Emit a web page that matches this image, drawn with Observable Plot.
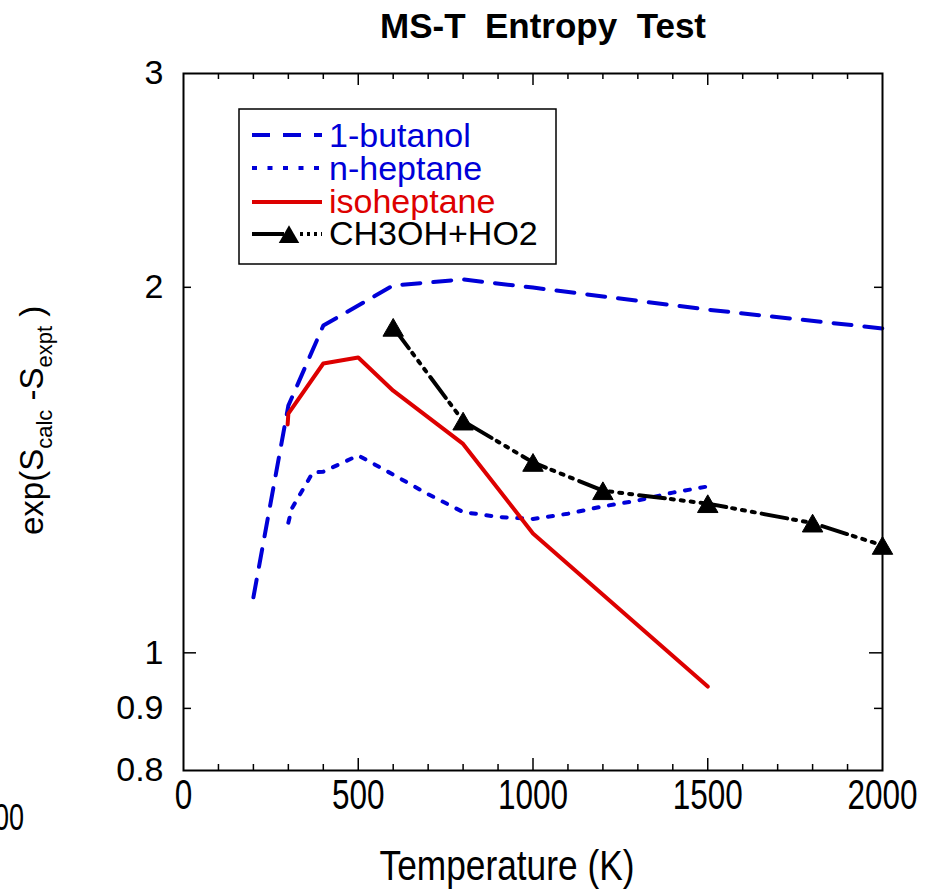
<!DOCTYPE html>
<html>
<head>
<meta charset="utf-8">
<script src="https://cdn.jsdelivr.net/npm/d3@7"></script>
<script src="https://cdn.jsdelivr.net/npm/@observablehq/plot@0.6"></script>
<style>
  html, body { margin: 0; padding: 0; background: #fff; }
  body { font-family: "Liberation Sans", Arial, Helvetica, sans-serif; }
  #wrap { position: relative; width: 936px; height: 893px; overflow: hidden; }
  #title { position: absolute; left: 380px; top: 8px; font-size: 35px; line-height: 35px;
           font-weight: bold; white-space: pre; color: #000; }
  #chart { position: absolute; left: 0; top: 50px; }
</style>
</head>
<body>
<div id="wrap">
  <div id="title">MS-T  Entropy  Test</div>
  <div id="chart"></div>
</div>
<script>
// ---- data ----
const xTicks = [0, 500, 1000, 1500, 2000];
const xMinorTicks = [100, 200, 300, 400, 600, 700, 800, 900, 1100, 1200, 1300, 1400, 1600, 1700, 1800, 1900];
const xMajorTicks = [500, 1000, 1500];
const yTicks = [0.8, 0.9, 1, 2, 3];
const yMinorTicks = [0.9, 2];
const yMajorTicks = [1];

const seriesNames = ["1-butanol", "n-heptane", "isoheptane", "CH3OH+HO2"];

const butanolT = [200, 300, 400, 600, 800, 1000, 1500, 2000];
const butanolV = [1.111, 1.598, 1.860, 2.007, 2.030, 1.999, 1.917, 1.850];

const heptaneT = [300, 310, 370, 400, 500, 600, 700, 800, 900, 1000, 1100, 1200, 1300, 1400, 1500];
const heptaneV = [1.280, 1.315, 1.408, 1.410, 1.454, 1.402, 1.351, 1.306, 1.294, 1.289, 1.302, 1.320, 1.335, 1.355, 1.371];

const isoT = [298, 300, 400, 500, 600, 800, 1000, 1500];
const isoV = [1.542, 1.574, 1.731, 1.751, 1.644, 1.486, 1.254, 0.938];

const ch3T = [600, 800, 1000, 1200, 1500, 1800, 2000];
const ch3V = [1.854, 1.552, 1.435, 1.360, 1.327, 1.279, 1.226];

const BLUE = "#0000d8", RED = "#dd0000", BLACK = "#000000";
const colors = [BLUE, BLUE, RED, BLACK];
const dashes = ["18,13", "5,10.5", null, "26,6,3,7,3,7,3,7"];

const rows = (T, V) => T.map((t, i) => ({t, v: V[i]}));
const butanol = rows(butanolT, butanolV);
const heptane = rows(heptaneT, heptaneV);
const iso = rows(isoT, isoV);
const ch3 = rows(ch3T, ch3V);

// ---- layout ----
const W = 936, H = 843;
const mT = 23, mB = 123, mL = 183, mR = 54;
const plotW = W - mL - mR, plotH = H - mT - mB;
const FONT = "Liberation Sans, Arial, Helvetica, sans-serif";

const chart = Plot.plot({
  width: W, height: H,
  marginTop: mT, marginBottom: mB, marginLeft: mL, marginRight: mR,
  style: {fontFamily: FONT, background: "white", color: "black", overflow: "visible"},
  x: {domain: [0, 2000]},
  y: {type: "log", domain: [0.8, 3]},
  marks: [
    Plot.line(butanol, {x: "t", y: "v", stroke: colors[0], strokeWidth: 4, strokeDasharray: dashes[0]}),
    Plot.line(heptane, {x: "t", y: "v", stroke: colors[1], strokeWidth: 4, strokeDasharray: dashes[1]}),
    Plot.line(iso, {x: "t", y: "v", stroke: colors[2], strokeWidth: 4}),
    Plot.line(ch3, {x: "t", y: "v", stroke: colors[3], strokeWidth: 4, strokeDasharray: dashes[3]}),
    Plot.dot(ch3, {x: "t", y: "v", symbol: "triangle", r: 7.6, dy: 3, fill: "black", stroke: "black", strokeWidth: 1}),
    // frame & ticks (inward)
    Plot.frame({stroke: "black", strokeWidth: 2}),
    Plot.tickX(xMinorTicks, {x: d => d, insetTop: plotH - 6, stroke: "black", strokeWidth: 1.5}),
    Plot.tickX(xMajorTicks, {x: d => d, insetTop: plotH - 12, stroke: "black", strokeWidth: 1.5}),
    Plot.tickX(xMinorTicks, {x: d => d, insetBottom: plotH - 6, stroke: "black", strokeWidth: 1.5}),
    Plot.tickX(xMajorTicks, {x: d => d, insetBottom: plotH - 12, stroke: "black", strokeWidth: 1.5}),
    Plot.tickY(yMinorTicks, {y: d => d, insetRight: plotW - 8, stroke: "black", strokeWidth: 1.5}),
    Plot.tickY(yMajorTicks, {y: d => d, insetRight: plotW - 13, stroke: "black", strokeWidth: 1.5}),
    Plot.tickY(yMinorTicks, {y: d => d, insetLeft: plotW - 8, stroke: "black", strokeWidth: 1.5}),
    Plot.tickY(yMajorTicks, {y: d => d, insetLeft: plotW - 13, stroke: "black", strokeWidth: 1.5}),
    Plot.axisX(xTicks, {tickSize: 0, tickPadding: 9, fontSize: 42, label: null, tickFormat: d => String(d)}),
    Plot.axisY(yTicks, {tickSize: 0, tickPadding: 20, fontSize: 34, label: null, tickFormat: d => String(d)}),
    Plot.text(["Temperature (K)"], {frameAnchor: "bottom", dx: -26, dy: 80, lineAnchor: "top", fontSize: 42, fill: "black"})
  ]
});
document.getElementById("chart").appendChild(chart);

const svg = d3.select(chart);
// condensed look for x tick labels and x title
svg.selectAll('[aria-label="x-axis tick label"] text').each(function() {
  const w = this.getComputedTextLength();
  d3.select(this).attr("textLength", w * 0.75).attr("lengthAdjust", "spacingAndGlyphs");
});
svg.selectAll('[aria-label="text"] text').each(function() {
  const w = this.getComputedTextLength();
  d3.select(this).attr("textLength", w * 0.84).attr("lengthAdjust", "spacingAndGlyphs");
});

// y-axis title with subscripts
const yl = svg.append("text")
  .attr("transform", "translate(43,485) rotate(-90)")
  .attr("text-anchor", "start")
  .attr("font-family", FONT).attr("font-size", 33).attr("fill", "black");
yl.append("tspan").text("exp(S");
yl.append("tspan").attr("font-size", 22).attr("dy", 9).text("calc");
yl.append("tspan").attr("dy", -9).text(" -S");
yl.append("tspan").attr("font-size", 22).attr("dy", 9).text("expt");
yl.append("tspan").attr("dy", -9).text(" )");

// stray fragment at lower left of the reference
const stray = svg.append("text").attr("x", 24).attr("y", 780).attr("text-anchor", "end")
  .attr("font-family", FONT).attr("font-size", 36).attr("fill", "black").text("00");
stray.attr("textLength", stray.node().getComputedTextLength() * 0.75).attr("lengthAdjust", "spacingAndGlyphs");

// legend
const lg = svg.append("g").attr("class", "legend").attr("text-anchor", "start");
lg.append("rect").attr("x", 239).attr("y", 59).attr("width", 317).attr("height", 155)
  .attr("fill", "white").attr("stroke", "black").attr("stroke-width", 1.5);
const lineY = [85, 118, 152, 184];
const textY = [97, 130, 163, 195];
seriesNames.forEach((name, i) => {
  if (i < 3) {
    lg.append("line").attr("x1", 252).attr("x2", 322).attr("y1", lineY[i]).attr("y2", lineY[i])
      .attr("stroke", colors[i]).attr("stroke-width", 4).attr("stroke-dasharray", dashes[i]);
  } else {
    lg.append("line").attr("x1", 252).attr("x2", 284).attr("y1", lineY[i]).attr("y2", lineY[i])
      .attr("stroke", BLACK).attr("stroke-width", 4);
    lg.append("line").attr("x1", 300).attr("x2", 322).attr("y1", lineY[i]).attr("y2", lineY[i])
      .attr("stroke", BLACK).attr("stroke-width", 4).attr("stroke-dasharray", "3,4");
    lg.append("path").attr("d", d3.symbol(d3.symbolTriangle, Math.PI * 7.6 * 7.6)())
      .attr("transform", `translate(289,${lineY[i] + 3})`).attr("fill", "black");
  }
  lg.append("text").attr("x", 329).attr("y", textY[i]).attr("text-anchor", "start")
    .attr("font-family", FONT).attr("font-size", 34).attr("fill", colors[i]).text(name);
});
</script>
</body>
</html>
